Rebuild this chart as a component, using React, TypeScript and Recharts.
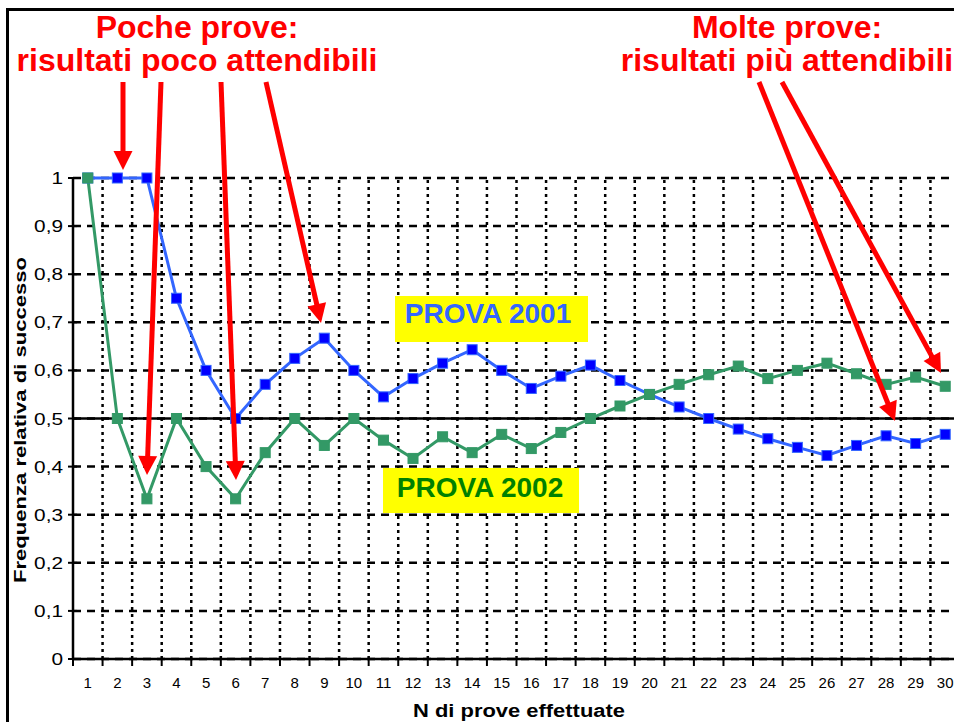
import { CartesianGrid, Line, LineChart, ReferenceLine, XAxis, YAxis } from "recharts";

const trials = [
  1, 2, 3, 4, 5, 6, 7, 8, 9, 10, 11, 12, 13, 14, 15, 16, 17, 18, 19, 20, 21, 22, 23, 24, 25, 26, 27,
  28, 29, 30,
];

const prova2001 = [
  1, 1, 1, 0.75, 0.6, 0.5, 0.571, 0.625, 0.667, 0.6, 0.545, 0.583, 0.615, 0.643, 0.6, 0.5625,
  0.588, 0.611, 0.579, 0.55, 0.524, 0.5, 0.478, 0.458, 0.44, 0.423, 0.444, 0.464, 0.448, 0.467,
];

const prova2002 = [
  1, 0.5, 0.333, 0.5, 0.4, 0.333, 0.429, 0.5, 0.444, 0.5, 0.455, 0.417, 0.462, 0.429, 0.467,
  0.4375, 0.471, 0.5, 0.526, 0.55, 0.571, 0.591, 0.609, 0.583, 0.6, 0.615, 0.593, 0.571, 0.586,
  0.567,
];

const yTicks = [0, 0.1, 0.2, 0.3, 0.4, 0.5, 0.6, 0.7, 0.8, 0.9, 1];
const yTickLabels = ["0", "0,1", "0,2", "0,3", "0,4", "0,5", "0,6", "0,7", "0,8", "0,9", "1"];

const data = trials.map((n, i) => ({ n, p2001: prova2001[i], p2002: prova2002[i] }));
// vertical gridlines sit between the categories
const gridX = trials.slice(0, -1).map((n) => n + 0.5);

const FONT = "Arial, 'Liberation Sans', sans-serif";
const CHART_W = 975;
const CHART_H = 722;
const PLOT_LEFT = 73;
const PLOT_RIGHT = 960;
const HALF_STEP = (PLOT_RIGHT - PLOT_LEFT) / trials.length / 2;

// annotation arrows, pixel coords: [fromX, fromY, tipX, tipY]
const arrows: [number, number, number, number][] = [
  [123, 82, 123, 170],
  [161, 82, 147, 475],
  [221, 82, 236, 480],
  [266, 82, 321, 323],
  [759, 82, 895, 421],
  [782, 82, 941, 373],
];

function Arrow({ a }: { a: [number, number, number, number] }) {
  const [x1, y1, x2, y2] = a;
  const len = Math.hypot(x2 - x1, y2 - y1);
  const ux = (x2 - x1) / len;
  const uy = (y2 - y1) / len;
  const head = 19;
  const hw = 9.5;
  const bx = x2 - ux * head;
  const by = y2 - uy * head;
  const pts = `${x2},${y2} ${bx - uy * hw},${by + ux * hw} ${bx + uy * hw},${by - ux * hw}`;
  return (
    <g>
      <line x1={x1} y1={y1} x2={bx + ux * 2} y2={by + uy * 2} stroke="#FF0000" strokeWidth={5} />
      <polygon points={pts} fill="#FF0000" />
    </g>
  );
}

const square = (fill: string, stroke: string) => (props: any) => {
  const { cx, cy, index } = props;
  if (cx == null || cy == null) return <g key={index} />;
  return (
    <rect key={index} x={cx - 5} y={cy - 5} width={10} height={10} fill={fill} stroke={stroke} strokeWidth={1} />
  );
};

function XTick({ x, y, payload }: any) {
  return (
    <g>
      <line x1={x + HALF_STEP} x2={x + HALF_STEP} y1={y} y2={y + 7} stroke="#000" strokeWidth={2} />
      {payload.value === trials[0] && (
        <line x1={x - HALF_STEP} x2={x - HALF_STEP} y1={y} y2={y + 7} stroke="#000" strokeWidth={2} />
      )}
      <text x={x} y={y + 29} textAnchor="middle" fontSize={15} fontFamily={FONT} fill="#000">
        {payload.value}
      </text>
    </g>
  );
}

function YTick({ x, y, payload }: any) {
  const i = yTicks.indexOf(payload.value);
  return (
    <g>
      <line x1={x - 5} x2={x + 4} y1={y} y2={y} stroke="#000" strokeWidth={2} />
      <text
        transform={`translate(${x - 10} ${y + 6}) scale(1.3 1)`}
        textAnchor="end"
        fontSize={16}
        fontFamily={FONT}
        fill="#000"
      >
        {yTickLabels[i]}
      </text>
    </g>
  );
}

export default function App() {
  return (
    <div
      style={{
        position: "absolute",
        left: 0,
        top: 0,
        width: 954,
        height: 722,
        overflow: "hidden",
        background: "#fff",
      }}
    >
      <LineChart
        width={CHART_W}
        height={CHART_H}
        data={data}
        margin={{ top: 178, right: CHART_W - PLOT_RIGHT, bottom: 23, left: PLOT_LEFT - 60 }}
      >
        <CartesianGrid vertical={false} stroke="#000" strokeWidth={2.5} strokeDasharray="8 6" />
        {gridX.map((gx) => (
          <ReferenceLine key={gx} x={gx} stroke="#000" strokeWidth={2.5} strokeDasharray="3 4" />
        ))}
        <ReferenceLine y={0.5} stroke="#000" strokeWidth={2.5} />
        <XAxis
          dataKey="n"
          type="number"
          domain={[0.5, 30.5]}
          ticks={trials}
          interval={0}
          height={40}
          tickSize={0}
          tickMargin={0}
          tick={<XTick />}
          axisLine={{ stroke: "#000", strokeWidth: 2.5 }}
          tickLine={false}
        />
        <YAxis
          domain={[0, 1]}
          ticks={yTicks}
          width={60}
          tickSize={0}
          tickMargin={0}
          tick={<YTick />}
          axisLine={{ stroke: "#000", strokeWidth: 2.5 }}
          tickLine={false}
        />
        <Line
          dataKey="p2001"
          stroke="#3366FF"
          strokeWidth={3}
          dot={square("#0000FF", "#3366FF")}
          isAnimationActive={false}
        />
        <Line
          dataKey="p2002"
          stroke="#339966"
          strokeWidth={3}
          dot={square("#339966", "#339966")}
          isAnimationActive={false}
        />
      </LineChart>

      <svg
        width={954}
        height={722}
        style={{ position: "absolute", left: 0, top: 0, pointerEvents: "none" }}
        fontFamily={FONT}
      >
        <line x1={7.5} y1={9.5} x2={954} y2={9.5} stroke="#000" strokeWidth={3} />
        <line x1={7.5} y1={8} x2={7.5} y2={722} stroke="#000" strokeWidth={3} />

        <text
          x={20}
          y={420}
          transform="rotate(-90 20 420)"
          textAnchor="middle"
          dominantBaseline="central"
          fontSize={17}
          fontWeight="bold"
          fill="#000"
          textLength={326}
          lengthAdjust="spacingAndGlyphs"
        >
          Frequenza relativa di successo
        </text>
        <text
          x={519}
          y={717}
          textAnchor="middle"
          fontSize={18}
          fontWeight="bold"
          fill="#000"
          textLength={212}
          lengthAdjust="spacingAndGlyphs"
        >
          N di prove effettuate
        </text>

        <rect x={395} y={296} width={193} height={46} fill="#FFFF00" />
        <text x={488} y={323} textAnchor="middle" fontSize={28} fontWeight="bold" fill="#3366FF">
          PROVA 2001
        </text>
        <rect x={383} y={468} width={196} height={45} fill="#FFFF00" />
        <text x={480} y={497} textAnchor="middle" fontSize={28} fontWeight="bold" fill="#008000">
          PROVA 2002
        </text>

        <text textAnchor="middle" fontSize={32} fontWeight="bold" fill="#FF0000">
          <tspan x={197} y={38}>Poche prove:</tspan>
          <tspan x={197} y={71}>risultati poco attendibili</tspan>
        </text>
        <text textAnchor="middle" fontSize={32} fontWeight="bold" fill="#FF0000">
          <tspan x={787} y={38}>Molte prove:</tspan>
          <tspan x={787} y={71}>risultati più attendibili</tspan>
        </text>

        {arrows.map((a, i) => (
          <Arrow key={i} a={a} />
        ))}
      </svg>
    </div>
  );
}
